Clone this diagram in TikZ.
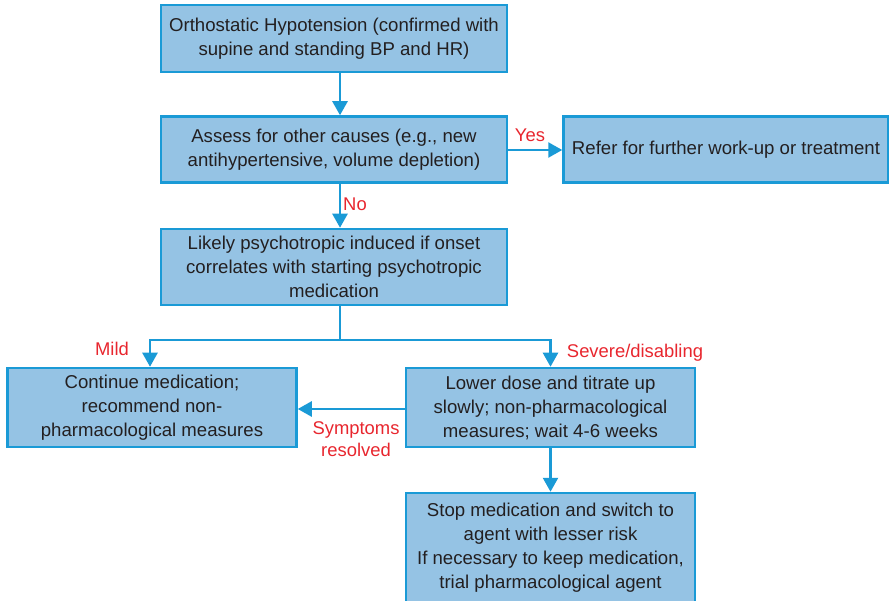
\documentclass[tikz,border=0pt]{standalone}
\usepackage{fontspec}
\setmainfont{Liberation Sans}
\usetikzlibrary{arrows.meta}
\definecolor{boxfill}{HTML}{95C3E4}
\definecolor{boxline}{HTML}{1A9AD6}
\definecolor{txt}{HTML}{231F20}
\definecolor{lbl}{HTML}{E8262E}
\begin{document}
\begin{tikzpicture}[x=1pt,y=-1pt,
  flow/.style={draw=boxline, fill=boxfill, line width=2.5pt, align=center,
    text=txt, font=\fontsize{18.6}{24}\selectfont, inner sep=0pt,
    minimum width=#1, anchor=center},
  arr/.style={draw=boxline, line width=2.5pt, -{Triangle[length=14pt,width=15pt]}},
  lab/.style={text=lbl, font=\fontsize{18.4}{22}\selectfont, inner sep=0pt, align=center}]
\useasboundingbox (0,0) rectangle (889,601);
\node[flow=346pt, minimum height=67pt] (b1) at (334,38.5)
  {Orthostatic Hypotension (confirmed with\\supine and standing BP and HR)};
\node[flow=346pt, minimum height=66pt] (b2) at (334,149.5)
  {Assess for other causes (e.g., new\\antihypertensive, volume depletion)};
\node[flow=325pt, minimum height=66pt] (b3) at (726,149.5)
  {Refer for further work-up or treatment};
\node[flow=346pt, minimum height=76pt] (b4) at (334,267)
  {Likely psychotropic induced if onset\\correlates with starting psychotropic\\medication};
\node[flow=289pt, minimum height=79pt] (b5) at (152,407.5)
  {Continue medication;\\recommend non-\\pharmacological measures};
\node[flow=289pt, minimum height=79pt] (b6) at (550.5,407.5)
  {Lower dose and titrate up\\slowly; non-pharmacological\\measures; wait 4-6 weeks};
\node[flow=289pt, minimum height=110pt] (b7) at (550.5,548)
  {Stop medication and switch to\\agent with lesser risk\\If necessary to keep medication,\\trial pharmacological agent};
% connector columns and the branching point
\coordinate (xa) at (340,0);
\coordinate (xl) at (150,0);
\coordinate (split) at (340,340);
\draw[arr] (b1.south -| xa) -- (b2.north -| xa);
\draw[arr] (b2.east |- 0,150) -- (b3.west |- 0,150);
\draw[arr] (b2.south -| xa) -- (b4.north -| xa);
\draw[draw=boxline, line width=2.5pt] (b4.south -| xa) -- (split);
\draw[arr] (split) -| (b5.north -| xl);
\draw[arr] (split) -| (b6.north);
\draw[arr] (b6.west |- 0,409) -- (b5.east |- 0,409);
\draw[arr] (b6.south) -- (b7.north);
% branch labels
\node[lab] (yes) at (530,135) {Yes};
\node[lab] (no) at (355,204) {No};
\node[lab] (mild) at (112,349) {Mild};
\node[lab] (sev) at (635,353) {Severe/disabling};
\node[lab] (res) at (356,439) {Symptoms\\resolved};
\end{tikzpicture}
\end{document}
